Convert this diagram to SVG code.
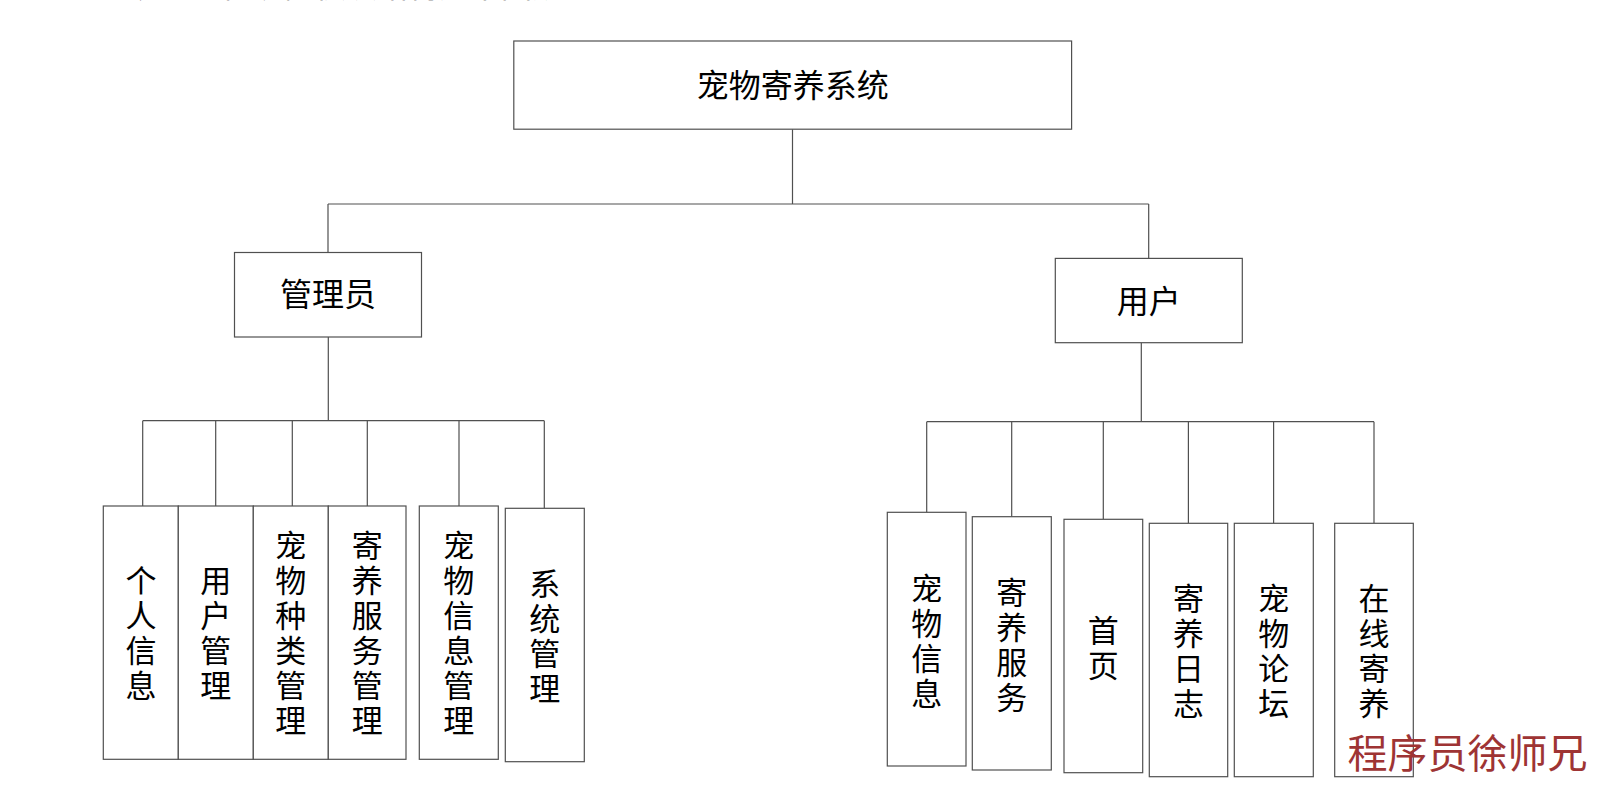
<svg xmlns="http://www.w3.org/2000/svg" width="1608" height="798" viewBox="0 0 1608 798">
<style>
  .box { fill: #ffffff; stroke: #505050; stroke-width: 1.2; }
  .conn { fill: none; stroke: #505050; stroke-width: 1.2; }
  .t { font-family: "Noto Sans CJK SC", "Noto Sans", sans-serif; font-size: 32px; fill: #000; text-anchor: middle; }
  .v { font-family: "Noto Sans CJK SC", "Noto Sans", sans-serif; font-size: 31px; fill: #000; text-anchor: middle; }
  .cut { font-family: "Noto Sans CJK SC", "Noto Sans", sans-serif; font-size: 31px; fill: #000; }
  .wm { font-family: "Noto Sans CJK SC", serif; font-size: 40px; fill: #9e3434; }
</style>
<rect x="0" y="0" width="1608" height="798" fill="#ffffff"/>

<text class="cut" x="98" y="-3.5" textLength="496" lengthAdjust="spacingAndGlyphs">系统的总体功能模块结构如下图所示</text>

<g id="connectors">
  <path class="conn" d="M792.5,129.2 V204 M328,204 H1148.7 M328,204 V252.5 M1148.7,204 V258.4"/>
  <path class="conn" d="M328.3,337 V420.7 M142.7,420.7 H544.3 M142.7,420.7 V506 M215.7,420.7 V506 M292.3,420.7 V506 M367.3,420.7 V506 M459,420.7 V506 M544.3,420.7 V508.3"/>
  <path class="conn" d="M1141.3,342.7 V421.7 M926.7,421.7 H1374 M926.7,421.7 V512.3 M1011.7,421.7 V516.7 M1103.3,421.7 V519.3 M1188.4,421.7 V523.3 M1273.6,421.7 V523.3 M1374,421.7 V523.3"/>
</g>

<g id="root">
  <rect class="box" x="513.8" y="41" width="557.8" height="88.2"/>
  <text class="t" x="792.7" y="97">宠物寄养系统</text>
</g>

<g id="admin">
  <rect class="box" x="234.5" y="252.5" width="187" height="84.5"/>
  <text class="t" x="328" y="306">管理员</text>
</g>

<g id="user">
  <rect class="box" x="1055.3" y="258.4" width="187" height="84.3"/>
  <text class="t" x="1148.7" y="312.5">用户</text>
</g>

<g id="a1">
  <rect class="box" x="103.3" y="506" width="75" height="253.3"/>
  <text class="v"><tspan x="141" y="592">个</tspan><tspan x="141" y="627">人</tspan><tspan x="141" y="662">信</tspan><tspan x="141" y="697">息</tspan></text>
</g>
<g id="a2">
  <rect class="box" x="178.3" y="506" width="75" height="253.3"/>
  <text class="v"><tspan x="215.8" y="592">用</tspan><tspan x="215.8" y="627">户</tspan><tspan x="215.8" y="662">管</tspan><tspan x="215.8" y="697">理</tspan></text>
</g>
<g id="a3">
  <rect class="box" x="253.3" y="506" width="75" height="253.3"/>
  <text class="v"><tspan x="290.8" y="557">宠</tspan><tspan x="290.8" y="592">物</tspan><tspan x="290.8" y="627">种</tspan><tspan x="290.8" y="662">类</tspan><tspan x="290.8" y="697">管</tspan><tspan x="290.8" y="732">理</tspan></text>
</g>
<g id="a4">
  <rect class="box" x="328.3" y="506" width="77.7" height="253.3"/>
  <text class="v"><tspan x="367.2" y="557">寄</tspan><tspan x="367.2" y="592">养</tspan><tspan x="367.2" y="627">服</tspan><tspan x="367.2" y="662">务</tspan><tspan x="367.2" y="697">管</tspan><tspan x="367.2" y="732">理</tspan></text>
</g>
<g id="a5">
  <rect class="box" x="419.3" y="506" width="79" height="253.3"/>
  <text class="v"><tspan x="458.8" y="557">宠</tspan><tspan x="458.8" y="592">物</tspan><tspan x="458.8" y="627">信</tspan><tspan x="458.8" y="662">息</tspan><tspan x="458.8" y="697">管</tspan><tspan x="458.8" y="732">理</tspan></text>
</g>
<g id="a6">
  <rect class="box" x="505.3" y="508.3" width="79" height="253.4"/>
  <text class="v"><tspan x="544.8" y="594.5">系</tspan><tspan x="544.8" y="629.5">统</tspan><tspan x="544.8" y="664.5">管</tspan><tspan x="544.8" y="699.5">理</tspan></text>
</g>

<g id="u1">
  <rect class="box" x="887.3" y="512.3" width="78.7" height="253.7"/>
  <text class="v"><tspan x="926.7" y="600">宠</tspan><tspan x="926.7" y="635">物</tspan><tspan x="926.7" y="670">信</tspan><tspan x="926.7" y="705">息</tspan></text>
</g>
<g id="u2">
  <rect class="box" x="972.3" y="516.7" width="79" height="253.3"/>
  <text class="v"><tspan x="1011.8" y="603.5">寄</tspan><tspan x="1011.8" y="638.5">养</tspan><tspan x="1011.8" y="673.5">服</tspan><tspan x="1011.8" y="708.5">务</tspan></text>
</g>
<g id="u3">
  <rect class="box" x="1064" y="519.3" width="78.7" height="253.4"/>
  <text class="v"><tspan x="1103.3" y="642">首</tspan><tspan x="1103.3" y="677">页</tspan></text>
</g>
<g id="u4">
  <rect class="box" x="1149.3" y="523.3" width="78.4" height="253.4"/>
  <text class="v"><tspan x="1188.5" y="609.5">寄</tspan><tspan x="1188.5" y="644.5">养</tspan><tspan x="1188.5" y="679.5">日</tspan><tspan x="1188.5" y="714.5">志</tspan></text>
</g>
<g id="u5">
  <rect class="box" x="1234.3" y="523.3" width="79" height="253.4"/>
  <text class="v"><tspan x="1273.8" y="609.5">宠</tspan><tspan x="1273.8" y="644.5">物</tspan><tspan x="1273.8" y="679.5">论</tspan><tspan x="1273.8" y="714.5">坛</tspan></text>
</g>
<g id="u6">
  <rect class="box" x="1334.7" y="523.3" width="78.6" height="253.4"/>
  <text class="v"><tspan x="1374" y="609.5">在</tspan><tspan x="1374" y="644.5">线</tspan><tspan x="1374" y="679.5">寄</tspan><tspan x="1374" y="714.5">养</tspan></text>
</g>

<text class="wm" x="1347.5" y="767.7">程序员徐师兄</text>
</svg>
